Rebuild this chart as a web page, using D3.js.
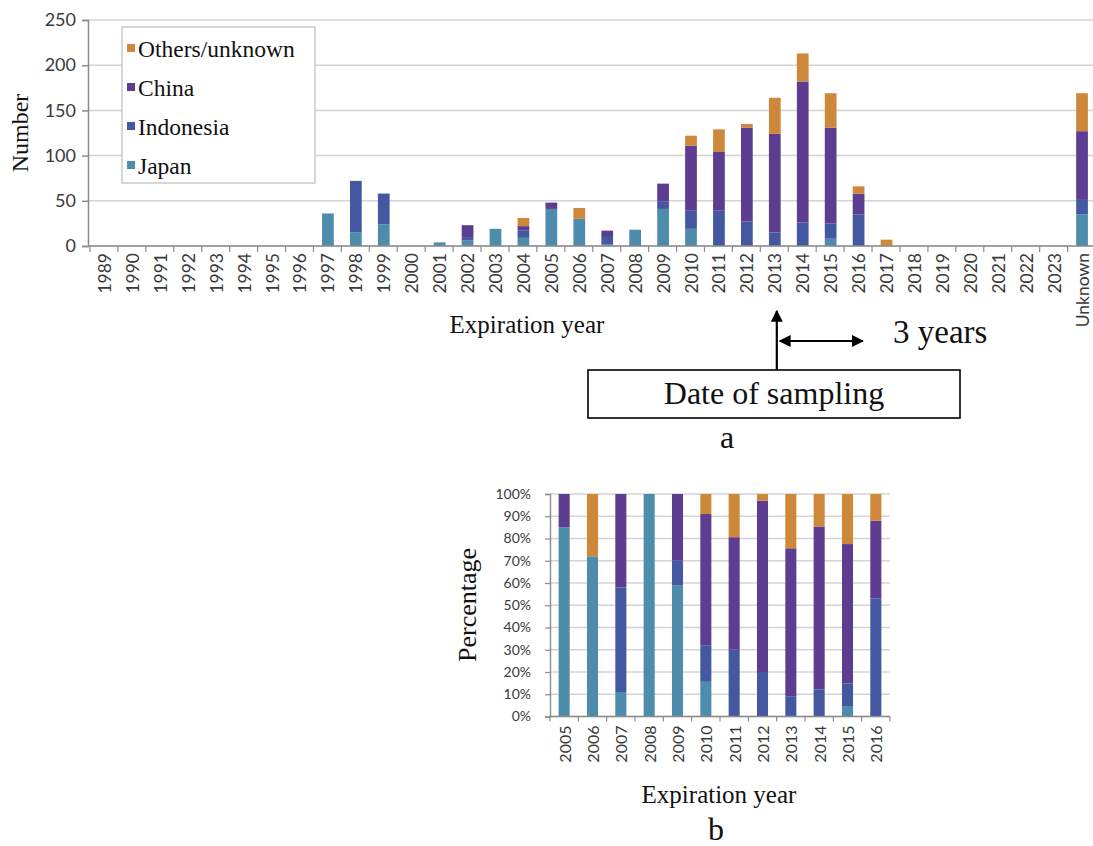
<!DOCTYPE html>
<html>
<head>
<meta charset="utf-8">
<script src="https://cdn.jsdelivr.net/npm/d3@7/dist/d3.min.js"></script>
<style>
  html, body { margin: 0; padding: 0; background: #fff; }
  svg { display: block; }
  .tick-num { font-family: Lato, "Open Sans", sans-serif; fill: #3a3a3a; }
  .serif { font-family: "Liberation Serif", "Times New Roman", serif; fill: #111; }
</style>
</head>
<body>
<svg id="chart" width="1093" height="846"></svg>
<script>
// Panel a: counts by expiration year, stacked by origin
const yearsA = ["1989","1990","1991","1992","1993","1994","1995","1996","1997","1998","1999","2000",
  "2001","2002","2003","2004","2005","2006","2007","2008","2009","2010","2011","2012","2013","2014",
  "2015","2016","2017","2018","2019","2020","2021","2022","2023","Unknown"];
const japanA     = [0,0,0,0,0,0,0,0,36,15,24,0,4,6,19,9,41,30,2,18,41,19,0,0,0,0,8,0,0,0,0,0,0,0,0,35];
const indonesiaA = [0,0,0,0,0,0,0,0,0,57,34,0,0,3,0,8,0,0,8,0,8,20,39,27,15,26,17,35,0,0,0,0,0,0,0,16];
const chinaA     = [0,0,0,0,0,0,0,0,0,0,0,0,0,14,0,5,7,0,7,0,20,72,65,104,109,156,106,23,0,0,0,0,0,0,0,76];
const othersA    = [0,0,0,0,0,0,0,0,0,0,0,0,0,0,0,9,0,12,0,0,0,11,25,4,40,31,38,8,7,0,0,0,0,0,0,42];
const ticksA = [0, 50, 100, 150, 200, 250];

// Panel b: percentage share by expiration year
const yearsB = ["2005","2006","2007","2008","2009","2010","2011","2012","2013","2014","2015","2016"];
const japanB     = [85, 72, 11, 100, 59, 15.6, 0, 0, 0, 0, 4.7, 0];
const indonesiaB = [0, 0, 47, 0, 11, 16.4, 30.2, 20, 9.1, 12.2, 10.1, 53];
const chinaB     = [15, 0, 42, 0, 30, 59, 50.4, 77, 66.5, 73.2, 62.7, 35];
const othersB    = [0, 28, 0, 0, 0, 9, 19.4, 3, 24.4, 14.6, 22.5, 12];
const ticksB = [0,10,20,30,40,50,60,70,80,90,100];

const seriesNames = ["Japan", "Indonesia", "China", "Others/unknown"];
const seriesColors = ["#4d8caa", "#4358a1", "#5d3d8f", "#cf873a"];
const legendOrder = ["Others/unknown", "China", "Indonesia", "Japan"];

const svg = d3.select("#chart");
const gridColor = "#d4d4d4";
const axisColor = "#8c8c8c";

function toRows(cats, arrs) {
  return cats.map((c, i) => {
    const r = { cat: c };
    seriesNames.forEach((s, k) => { r[s] = arrs[k][i]; });
    return r;
  });
}

function drawStacked(opts) {
  const { cats, arrs, x, y, g } = opts;
  const stack = d3.stack().keys(seriesNames)(toRows(cats, arrs));
  g.selectAll("g.layer").data(stack).join("g")
    .attr("class", "layer")
    .attr("fill", (d, i) => seriesColors[i])
    .selectAll("rect").data(d => d).join("rect")
    .attr("x", d => x(d.data.cat))
    .attr("width", x.bandwidth())
    .attr("y", d => y(d[1]))
    .attr("height", d => Math.max(0, y(d[0]) - y(d[1])));
}

// ---------- Panel a ----------
const xA = d3.scaleBand().domain(yearsA).range([90.5, 1096]).paddingInner(0.58).paddingOuter(0.29);
const yA = d3.scaleLinear().domain([0, 250]).range([246, 20]);
const axisXA = 88;
const gA = svg.append("g");

gA.selectAll("line.grid").data(ticksA).join("line")
  .attr("x1", axisXA).attr("x2", 1093)
  .attr("y1", d => yA(d)).attr("y2", d => yA(d))
  .attr("stroke", gridColor).attr("stroke-width", 1.5);

// y axis
const yAxisA = d3.axisLeft(yA).tickValues(ticksA).tickSize(6).tickPadding(6);
const yAG = gA.append("g").attr("transform", `translate(${axisXA},0)`).call(yAxisA);
yAG.select(".domain").attr("stroke", axisColor).attr("stroke-width", 1.5);
yAG.selectAll(".tick line").attr("stroke", axisColor).attr("stroke-width", 1.5);
yAG.selectAll(".tick text").attr("class", "tick-num").style("font-size", "18px");

// legend box sits over the gridlines
const legA = gA.append("g");
legA.append("rect").attr("x", 122).attr("y", 27).attr("width", 193).attr("height", 156)
  .attr("fill", "#fff").attr("stroke", "#bdbdbd").attr("stroke-width", 1.2);
const legY = d3.scalePoint().domain(legendOrder).range([48, 165]);
legendOrder.forEach(name => {
  const c = seriesColors[seriesNames.indexOf(name)];
  legA.append("rect").attr("x", 127).attr("y", legY(name) - 4).attr("width", 8).attr("height", 8).attr("fill", c);
  legA.append("text").attr("class", "serif").attr("x", 138).attr("y", legY(name) + 1)
    .attr("dominant-baseline", "central").style("font-size", "23.5px").text(name);
});

drawStacked({ cats: yearsA, arrs: [japanA, indonesiaA, chinaA, othersA], x: xA, y: yA, g: gA.append("g") });

// x axis
const xAG = gA.append("g").attr("transform", "translate(0,246)");
xAG.append("line").attr("x1", axisXA).attr("x2", 1093).attr("stroke", axisColor).attr("stroke-width", 1.5);
xAG.selectAll("line.tk").data(yearsA).join("line")
  .attr("x1", d => xA(d) - xA.step() * xA.paddingInner() / 2 - 0.5)
  .attr("x2", d => xA(d) - xA.step() * xA.paddingInner() / 2 - 0.5)
  .attr("y1", 0).attr("y2", 6).attr("stroke", axisColor).attr("stroke-width", 1.2);
xAG.selectAll("text").data(yearsA).join("text")
  .attr("class", "tick-num")
  .attr("transform", d => `translate(${xA(d) + xA.bandwidth() / 2},7) rotate(-90)`)
  .attr("text-anchor", "end").attr("dominant-baseline", "central")
  .style("font-size", "17.5px").text(d => d);

// titles
svg.append("text").attr("class", "serif")
  .attr("transform", "translate(20,133) rotate(-90)")
  .attr("text-anchor", "middle").attr("dominant-baseline", "central")
  .style("font-size", "24px").text("Number");
svg.append("text").attr("class", "serif").attr("x", 527).attr("y", 333)
  .attr("text-anchor", "middle").style("font-size", "25px").text("Expiration year");

// sampling annotation
const sampleX = xA("2013") + xA.bandwidth() / 2 + 2;
const ann = svg.append("g");
const defs = svg.append("defs");
defs.append("marker").attr("id", "head").attr("viewBox", "0 0 10 10")
  .attr("refX", 9).attr("refY", 5).attr("markerWidth", 12).attr("markerHeight", 12)
  .attr("markerUnits", "userSpaceOnUse").attr("orient", "auto-start-reverse")
  .append("path").attr("d", "M0,0 L10,5 L0,10 z").attr("fill", "#000");
ann.append("line").attr("x1", sampleX).attr("x2", sampleX).attr("y1", 370).attr("y2", 311)
  .attr("stroke", "#000").attr("stroke-width", 2.2).attr("marker-end", "url(#head)");
ann.append("line").attr("x1", sampleX + 3).attr("x2", sampleX + 86).attr("y1", 341).attr("y2", 341)
  .attr("stroke", "#000").attr("stroke-width", 2.2)
  .attr("marker-start", "url(#head)").attr("marker-end", "url(#head)");
ann.append("text").attr("class", "serif").attr("x", 893).attr("y", 343)
  .style("font-size", "33px").text("3 years");
ann.append("rect").attr("x", 588).attr("y", 370).attr("width", 372).attr("height", 48)
  .attr("fill", "#fff").attr("stroke", "#000").attr("stroke-width", 1.6);
ann.append("text").attr("class", "serif").attr("x", 774).attr("y", 404)
  .attr("text-anchor", "middle").style("font-size", "32px").text("Date of sampling");
svg.append("text").attr("class", "serif").attr("x", 727).attr("y", 448)
  .attr("text-anchor", "middle").style("font-size", "32px").text("a");

// ---------- Panel b ----------
const xB = d3.scaleBand().domain(yearsB).range([550, 890]).paddingInner(0.61).paddingOuter(0.305);
const yB = d3.scaleLinear().domain([0, 100]).range([716.5, 494]);
const gB = svg.append("g");

gB.selectAll("line.grid").data(ticksB).join("line")
  .attr("x1", 550).attr("x2", 890)
  .attr("y1", d => yB(d)).attr("y2", d => yB(d))
  .attr("stroke", gridColor).attr("stroke-width", 1.3);

const yAxisB = d3.axisLeft(yB).tickValues(ticksB).tickSize(5).tickPadding(14).tickFormat(d => d + "%");
const yBG = gB.append("g").attr("transform", "translate(550,0)").call(yAxisB);
yBG.select(".domain").attr("stroke", axisColor).attr("stroke-width", 1.4);
yBG.selectAll(".tick line").attr("stroke", axisColor).attr("stroke-width", 1.2);
yBG.selectAll(".tick text").attr("class", "tick-num").style("font-size", "14px");

drawStacked({ cats: yearsB, arrs: [japanB, indonesiaB, chinaB, othersB], x: xB, y: yB, g: gB.append("g") });

const xBG = gB.append("g").attr("transform", "translate(0,716.5)");
xBG.append("line").attr("x1", 550).attr("x2", 890).attr("stroke", axisColor).attr("stroke-width", 1.4);
xBG.selectAll("line.tk").data(yearsB.concat(["end"])).join("line")
  .attr("x1", (d, i) => 550 + i * xB.step()).attr("x2", (d, i) => 550 + i * xB.step())
  .attr("y1", 0).attr("y2", 5).attr("stroke", axisColor).attr("stroke-width", 1.2);
xBG.selectAll("text").data(yearsB).join("text")
  .attr("class", "tick-num")
  .attr("transform", d => `translate(${xB(d) + xB.bandwidth() / 2},9) rotate(-90)`)
  .attr("text-anchor", "end").attr("dominant-baseline", "central")
  .style("font-size", "16px").text(d => d);

svg.append("text").attr("class", "serif")
  .attr("transform", "translate(467,605) rotate(-90)")
  .attr("text-anchor", "middle").attr("dominant-baseline", "central")
  .style("font-size", "26px").text("Percentage");
svg.append("text").attr("class", "serif").attr("x", 719).attr("y", 803)
  .attr("text-anchor", "middle").style("font-size", "25px").text("Expiration year");
svg.append("text").attr("class", "serif").attr("x", 716).attr("y", 840)
  .attr("text-anchor", "middle").style("font-size", "32px").text("b");
</script>
</body>
</html>
